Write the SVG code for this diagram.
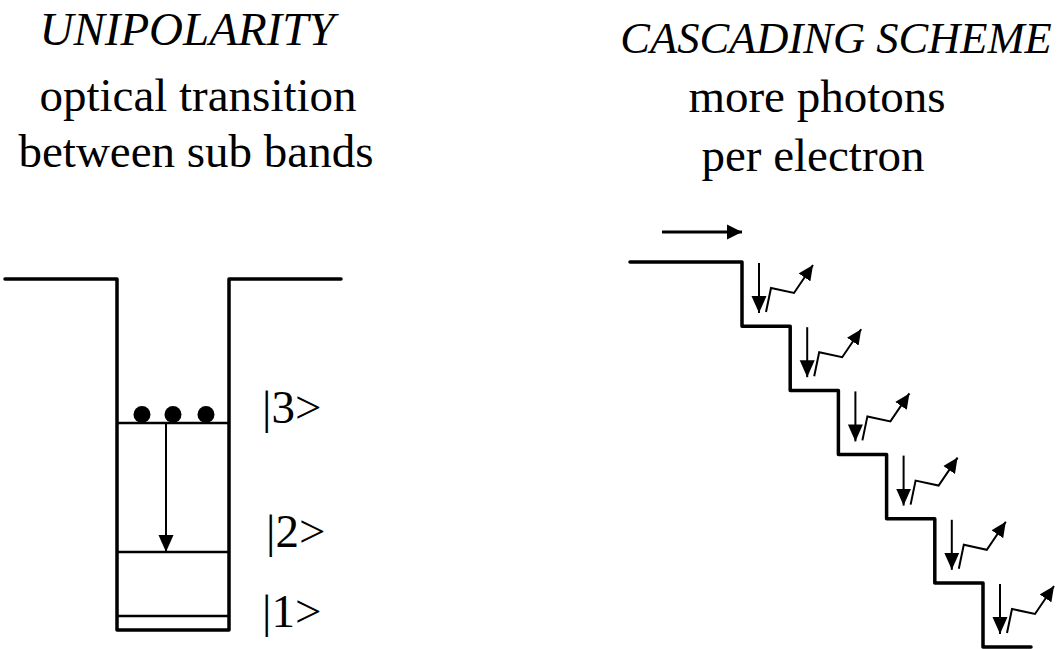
<svg xmlns="http://www.w3.org/2000/svg" width="1058" height="649" viewBox="0 0 1058 649">
<style>
text{font-family:'Liberation Serif',Tinos,'DejaVu Serif','Times New Roman',serif;fill:#000;font-size:47px}
.it{font-style:italic;font-size:47px}
.it2{font-style:italic;font-size:44.5px}
.mid{text-anchor:middle}
.wall{fill:none;stroke:#000;stroke-width:3.5;stroke-linejoin:round;stroke-linecap:round}
.lvl{fill:none;stroke:#000;stroke-width:2.5}
.thin{fill:none;stroke:#000;stroke-width:2}
.photon{fill:none;stroke:#000;stroke-width:2;stroke-linejoin:miter}
</style>
<defs>
<marker id="ah" markerUnits="userSpaceOnUse" markerWidth="18" markerHeight="16" refX="17" refY="7.5" orient="auto" viewBox="0 0 18 15">
<path d="M0,0 L17,7.5 L0,15 z" fill="#000"/>
</marker>
<marker id="ahp" markerUnits="userSpaceOnUse" markerWidth="16" markerHeight="15" refX="15" refY="7" orient="auto" viewBox="0 0 16 14">
<path d="M0,0 L15,7 L0,14 z" fill="#000"/>
</marker>
<marker id="ahb" markerUnits="userSpaceOnUse" markerWidth="16" markerHeight="16" refX="15" refY="7.5" orient="auto" viewBox="0 0 16 15">
<path d="M0,0 L15,7.5 L0,15 z" fill="#000"/>
</marker>
<g id="emit">
<line class="thin" x1="17" y1="1" x2="17" y2="51" marker-end="url(#ah)"/>
<path class="photon" d="M24,50 L29,26 L52,31 L71,3" marker-end="url(#ahp)"/>
</g>
</defs>
<rect width="1058" height="649" fill="#fff"/>

<g id="title-left">
<text class="it mid" x="187" y="45">UNIPOLARITY</text>
<text class="mid" x="198" y="111">optical transition</text>
<text class="mid" x="196" y="167">between sub bands</text>
</g>
<g id="title-right">
<text class="it2 mid" x="836" y="53">CASCADING SCHEME</text>
<text class="mid" x="817" y="112">more photons</text>
<text class="mid" x="813" y="171">per electron</text>
</g>

<g id="well">
<path class="wall" d="M5,279 H117 V630 H229 V279 H341"/>
<line class="lvl" x1="117" y1="423" x2="229" y2="423"/>
<line class="lvl" x1="117" y1="552" x2="229" y2="552"/>
<line class="lvl" x1="117" y1="616" x2="229" y2="616"/>
</g>
<g id="electrons">
<circle cx="142" cy="414.5" r="8.5"/>
<circle cx="173" cy="414.5" r="8.5"/>
<circle cx="206" cy="414.5" r="8.5"/>
</g>
<g id="levels">
<text x="262" y="423">|3&gt;</text>
<text x="266" y="547">|2&gt;</text>
<text x="262" y="627">|1&gt;</text>
</g>

<g id="staircase">
<path class="wall" d="M630,262 H742 V326.2 H790.2 V390.4 H838.4 V454.6 H886.6 V518.8 H934.8 V583 H983 V647 H1031" stroke-linecap="butt"/>
</g>
<g id="connectors">
<line x1="662" y1="232" x2="742" y2="232" stroke="#000" stroke-width="3.2" marker-end="url(#ahb)"/>
<line class="thin" x1="166" y1="424" x2="166" y2="552" marker-end="url(#ah)"/>
<use href="#emit" transform="translate(742,262)"/>
<use href="#emit" transform="translate(790.2,326.2)"/>
<use href="#emit" transform="translate(838.4,390.4)"/>
<use href="#emit" transform="translate(886.6,454.6)"/>
<use href="#emit" transform="translate(934.8,518.8)"/>
<use href="#emit" transform="translate(983,583)"/>
</g>
</svg>
